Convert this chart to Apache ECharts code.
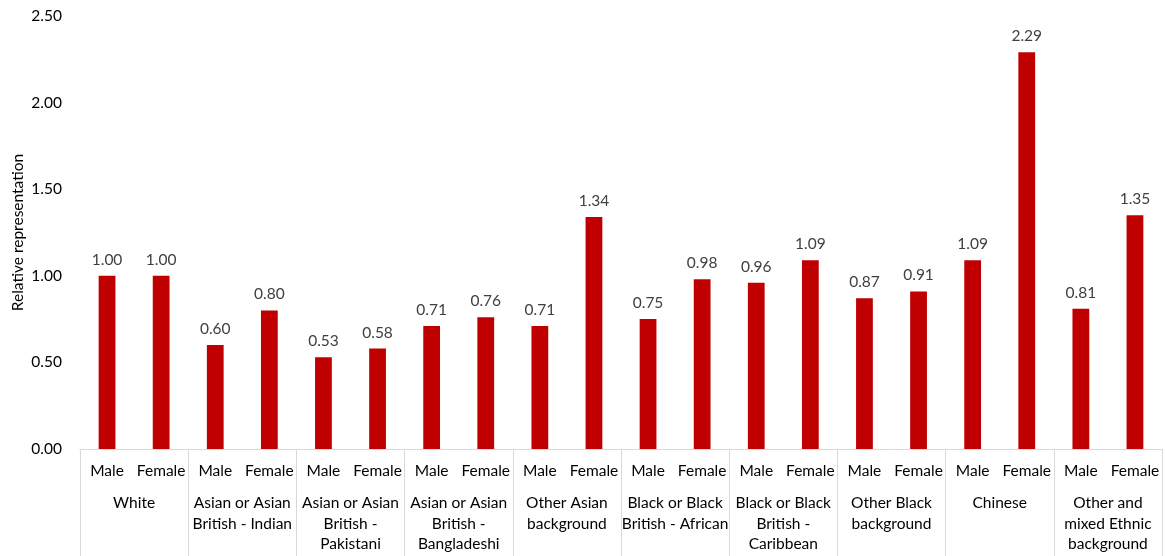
<!DOCTYPE html>
<html>
<head>
<meta charset="utf-8">
<script src="https://cdn.jsdelivr.net/npm/echarts@6/dist/echarts.min.js"></script>
<style>html,body{margin:0;padding:0;background:#fff}#c{width:1165px;height:556px}</style>
</head>
<body>
<div id="c"></div>
<script>
var groups = ["White", "Asian or Asian\nBritish - Indian", "Asian or Asian\nBritish -\nPakistani", "Asian or Asian\nBritish -\nBangladeshi", "Other Asian\nbackground", "Black or Black\nBritish - African", "Black or Black\nBritish -\nCaribbean", "Other Black\nbackground", "Chinese", "Other and\nmixed Ethnic\nbackground"];
var sexes = ["Male", "Female"];
var maleValues = [1.00, 0.60, 0.53, 0.71, 0.71, 0.75, 0.96, 0.87, 1.09, 0.81];
var femaleValues = [1.00, 0.80, 0.58, 0.76, 1.34, 0.98, 1.09, 0.91, 2.29, 1.35];
var yTicks = [0, 0.5, 1.0, 1.5, 2.0, 2.5];

var cats = [], vals = [];
for (var i = 0; i < groups.length; i++) {
  cats.push(sexes[0]); vals.push(maleValues[i]);
  cats.push(sexes[1]); vals.push(femaleValues[i]);
}
var font = 'Lato, "Open Sans", sans-serif';
var fs = 15.5;
var chart = echarts.init(document.getElementById('c'));
chart.setOption({
  animation: false,
  grid: {left: 80, right: 3, top: 16, bottom: 107, containLabel: false, outerBoundsMode: 'none'},
  xAxis: [{
    type: 'category', data: cats, position: 'bottom',
    axisLine: {show: true, lineStyle: {color: '#d9d9d9', width: 1}},
    axisTick: {show: false},
    axisLabel: {interval: 0, color: '#000', fontFamily: font, fontSize: fs, margin: 14}
  }, {
    type: 'category', data: groups, position: 'bottom',
    axisLine: {show: true, lineStyle: {color: '#d9d9d9', width: 1}},
    axisTick: {show: true, length: 110, lineStyle: {color: '#d9d9d9', width: 1}},
    axisLabel: {interval: 0, color: '#000', fontFamily: font, fontSize: fs, margin: 44, lineHeight: 20.5}
  }],
  yAxis: {
    type: 'value', min: yTicks[0], max: yTicks[yTicks.length - 1], interval: 0.5,
    name: 'Relative representation', nameLocation: 'middle', nameGap: 54, nameMoveOverlap: false,
    nameTextStyle: {color: '#000', fontFamily: font, fontSize: fs},
    axisLine: {show: false}, axisTick: {show: false}, splitLine: {show: false},
    axisLabel: {color: '#000', fontFamily: font, fontSize: fs, margin: 18,
      formatter: function (v) { return v.toFixed(2); }}
  },
  series: [{
    type: 'bar', xAxisIndex: 0, data: vals, barWidth: '31%',
    itemStyle: {color: '#C00000'},
    label: {show: true, position: 'top', distance: 8, color: '#404040', fontFamily: font, fontSize: fs,
      formatter: function (p) { return p.value.toFixed(2); }}
  }]
});
</script>
</body>
</html>
